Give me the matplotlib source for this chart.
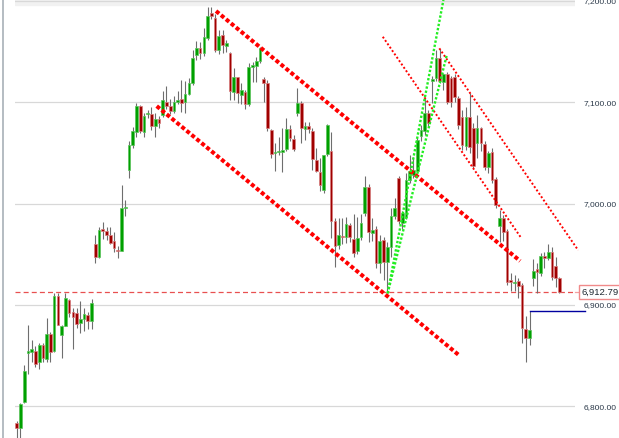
import matplotlib
matplotlib.use("Agg")
import matplotlib.pyplot as plt
import matplotlib.transforms as mtransforms
from matplotlib.patches import Rectangle
from matplotlib.ticker import FuncFormatter
import numpy as np

# candles (open, high, low, close)
open_ = [6783.5, 6778.6, 6804.2, 6853.0, 6853.3, 6854.9, 6843.4, 6860.8, 6847.0, 6871.0,
         6854.6, 6909.1, 6870.0, 6879.5, 6904.9, 6893.0, 6892.2, 6882.5, 6886.1, 6890.0,
         6884.2, 6960.2, 6947.6, 6974.7, 6973.0, 6968.7, 6962.8, 6954.5, 6953.5, 6995.7,
         7033.2, 7057.6, 7071.0, 7096.3, 7071.0, 7088.5, 7088.5, 7076.9, 7083.2, 7087.5,
         7100.6, 7096.3, 7091.4, 7100.6, 7103.0, 7100.6, 7108.2, 7118.8, 7146.7, 7153.9,
         7148.4, 7163.8, 7188.4, 7183.5, 7151.6, 7166.4, 7155.9, 7148.4, 7110.5, 7124.7,
         7107.2, 7109.9, 7098.0, 7135.1, 7135.8, 7141.0, 7123.0, 7119.3, 7072.7, 7049.7,
         7050.5, 7051.0, 7054.2, 7073.7, 7063.8, 7089.1, 7099.0, 7073.7, 7076.6, 7072.0,
         7042.8, 7031.5, 7013.2, 7049.0, 7052.2, 6982.9, 6959.2, 6968.1, 6967.4, 6978.9,
         6965.1, 6953.5, 6966.8, 6991.0, 7016.1, 6971.3, 6974.7, 6941.7, 6964.1, 6942.7,
         6957.5, 6988.0, 7025.3, 6980.9, 6987.1, 7023.3, 7028.0, 7032.5, 7066.7, 7071.7,
         7089.1, 7121.3, 7123.7, 7143.4, 7120.3, 7127.9, 7124.0, 7124.7, 7104.0, 7085.2,
         7057.2, 7085.2, 7074.6, 7060.1, 7074.3, 7058.8, 7036.4, 7051.2, 7024.0, 6977.9,
         6985.5, 6973.3, 6924.0, 6921.4, 6923.6, 6919.7, 6876.2, 6867.7, 6926.3, 6935.2,
         6931.8, 6948.6, 6946.0, 6952.6, 6938.4, 6926.9]
high = [6785.0, 6803.0, 6841.2, 6880.7, 6865.4, 6859.8, 6862.2, 6862.2, 6887.1, 6873.3,
        6911.5, 6912.0, 6880.0, 6912.0, 6906.0, 6897.0, 6897.0, 6904.0, 6896.7, 6893.3,
        6905.6, 6968.7, 6977.0, 6982.2, 6976.6, 6976.6, 6971.7, 6958.2, 7018.4, 7003.6,
        7061.5, 7075.3, 7099.0, 7097.0, 7089.7, 7092.5, 7095.7, 7089.0, 7086.5, 7111.4,
        7116.4, 7103.0, 7106.0, 7111.4, 7122.0, 7121.3, 7124.0, 7151.6, 7160.8, 7159.8,
        7173.0, 7194.3, 7194.0, 7187.0, 7171.4, 7171.0, 7161.5, 7150.0, 7133.6, 7125.0,
        7118.8, 7112.0, 7138.5, 7140.0, 7145.0, 7155.0, 7125.3, 7122.0, 7074.0, 7059.8,
        7065.5, 7074.3, 7084.2, 7077.6, 7067.7, 7113.8, 7101.0, 7080.9, 7080.9, 7074.3,
        7055.2, 7044.7, 7048.0, 7078.6, 7070.4, 6986.0, 6985.8, 6986.0, 6987.1, 6981.2,
        6989.5, 6987.1, 6989.5, 7027.3, 7019.0, 6985.5, 6978.0, 6969.0, 6967.0, 6962.4,
        6995.4, 7005.3, 7027.3, 6993.0, 7030.0, 7048.0, 7046.3, 7066.0, 7077.6, 7104.0,
        7092.0, 7126.0, 7151.6, 7152.3, 7129.2, 7130.0, 7126.0, 7128.0, 7106.0, 7092.0,
        7095.0, 7108.9, 7080.0, 7087.5, 7076.0, 7062.0, 7052.0, 7055.0, 7026.0, 6993.7,
        6988.8, 6975.0, 6932.0, 6929.6, 6926.3, 6921.4, 6889.4, 6894.3, 6945.1, 6941.7,
        6951.0, 6952.6, 6959.9, 6957.5, 6947.0, 6927.5]
low = [6768.0, 6766.0, 6803.0, 6831.9, 6844.0, 6838.7, 6836.8, 6843.7, 6843.7, 6843.7,
       6853.3, 6880.0, 6847.4, 6879.0, 6888.0, 6857.0, 6877.0, 6872.0, 6874.6, 6876.3,
       6876.3, 6941.7, 6946.0, 6964.8, 6964.0, 6960.0, 6952.6, 6946.0, 6953.0, 6987.8,
       7025.0, 7055.0, 7065.8, 7070.0, 7065.5, 7085.0, 7072.7, 7065.5, 7074.3, 7086.0,
       7093.1, 7088.0, 7089.0, 7098.0, 7090.7, 7089.0, 7107.0, 7117.0, 7141.7, 7142.4,
       7146.0, 7162.0, 7182.0, 7149.6, 7148.0, 7148.4, 7149.7, 7102.3, 7102.3, 7099.6,
       7098.3, 7093.1, 7096.0, 7120.3, 7120.3, 7139.0, 7100.6, 7072.0, 7045.0, 7032.2,
       7048.0, 7031.5, 7052.0, 7062.0, 7052.2, 7087.0, 7060.1, 7062.8, 7070.0, 7033.2,
       7031.0, 7012.5, 7011.0, 7047.0, 6965.8, 6937.8, 6955.0, 6960.0, 6960.8, 6962.0,
       6947.6, 6950.0, 6964.0, 6988.0, 6962.0, 6963.0, 6936.0, 6931.2, 6925.0, 6911.5,
       6947.6, 6985.0, 6980.0, 6975.0, 6985.0, 7020.0, 7025.0, 7030.0, 7062.0, 7068.0,
       7076.0, 7099.6, 7121.0, 7119.0, 7112.1, 7098.0, 7095.4, 7100.0, 7074.0, 7053.0,
       7053.0, 7050.0, 7035.0, 7045.0, 7052.0, 7033.0, 7030.0, 7020.0, 6995.7, 6962.4,
       6963.4, 6920.0, 6914.0, 6913.8, 6906.6, 6862.2, 6843.4, 6860.5, 6919.0, 6912.1,
       6929.0, 6936.2, 6944.0, 6925.0, 6918.0, 6912.0]
close = [6778.6, 6802.3, 6834.5, 6854.5, 6856.5, 6842.0, 6860.2, 6847.4, 6871.3, 6853.6,
         6908.8, 6880.5, 6879.2, 6907.2, 6891.8, 6888.0, 6880.8, 6886.1, 6891.1, 6883.9,
         6902.2, 6947.0, 6974.0, 6972.7, 6968.7, 6961.4, 6955.9, 6953.2, 6995.4, 6996.4,
         7057.6, 7071.7, 7096.3, 7071.4, 7086.5, 7089.4, 7076.9, 7083.5, 7079.3, 7102.3,
         7096.3, 7091.4, 7100.3, 7102.3, 7099.6, 7108.2, 7118.8, 7144.0, 7153.3, 7148.4,
         7164.7, 7185.2, 7185.2, 7151.6, 7165.4, 7156.5, 7158.2, 7111.4, 7124.7, 7108.9,
         7112.1, 7098.0, 7134.5, 7136.5, 7140.8, 7153.9, 7118.8, 7074.3, 7049.0, 7051.2,
         7051.0, 7053.0, 7073.7, 7064.5, 7054.2, 7099.0, 7074.3, 7076.9, 7073.4, 7044.0,
         7032.5, 7018.1, 7047.7, 7077.6, 6982.9, 6958.5, 6969.0, 6966.8, 6979.6, 6967.4,
         6951.6, 6965.8, 6980.6, 7016.1, 6971.7, 6974.0, 6941.7, 6962.8, 6942.7, 6957.5,
         6987.8, 6996.0, 6982.9, 6990.5, 7023.3, 7032.5, 7033.0, 7062.8, 7072.7, 7089.1,
         7079.9, 7123.3, 7143.4, 7121.0, 7127.9, 7100.0, 7100.0, 7105.5, 7077.6, 7057.9,
         7085.2, 7056.2, 7037.4, 7074.3, 7059.5, 7036.4, 7049.7, 7023.3, 6998.6, 6985.5,
         6972.3, 6922.4, 6923.0, 6922.4, 6919.0, 6876.9, 6867.7, 6875.3, 6933.8, 6932.8,
         6948.6, 6946.6, 6952.0, 6927.3, 6926.9, 6912.8]

price_ticks = [6800, 6900, 7000, 7100, 7200]
last_price = 6912.79

# drawn lines: ([bar index start, end], [price start, end])
channel_upper = ([53.25, 134.5], [7190.1, 6943.4])
channel_lower = ([37.4, 118.0], [7096.3, 6850.9])
thin_upper = ([112.9, 150.0], [7153.3, 6954.0])
thin_lower = ([97.8, 134.65], [7164.7, 6966.8])
green_steep = ([99.1, 114.0], [6911.5, 7201.0])
green_flat = ([99.1, 114.9], [6911.5, 7146.7])
blue_level = ([137.0, 151.8], [6894.3, 6894.3])

plt.rcParams['font.family'] = ['Liberation Sans', 'DejaVu Sans']

fig = plt.figure(figsize=(6.19, 4.38), dpi=100)
ax = fig.add_axes([15 / 619, 0, 560 / 619, 1])

x = np.arange(len(open_))
o = np.array(open_)
c = np.array(close)
up = c >= o
body_lo = np.minimum(o, c)
body_h = np.maximum(np.abs(c - o), 1.2)

ax.vlines(x, low, high, color='#6e6e6e', lw=0.8, zorder=2)
ax.bar(x[up], body_h[up], bottom=body_lo[up], width=0.72,
       color='#00a000', edgecolor='#5cc45c', linewidth=0.5, zorder=3)
ax.bar(x[~up], body_h[~up], bottom=body_lo[~up], width=0.72,
       color='#a00000', edgecolor='#d88080', linewidth=0.5, zorder=3)

# trend lines
for xs, ys in (channel_upper, channel_lower):
    ax.plot(xs, ys, color='#ff0000', lw=2.9, linestyle=(0, (1, 0.6)),
            dash_capstyle='butt', zorder=4)
for xs, ys in (thin_upper, thin_lower):
    ax.plot(xs, ys, color='#ff0000', lw=1.4, linestyle=(0, (1, 1.1)),
            zorder=4, clip_on=False)
for xs, ys in (green_steep, green_flat):
    ax.plot(xs, ys, color='#22ee22', lw=1.7, linestyle=(0, (1, 0.8)), zorder=4)
ax.plot(blue_level[0], blue_level[1], color='#0000a0', lw=1.0, zorder=4, clip_on=False)

# last price line and box
ax.axhline(last_price, color='#e85050', lw=0.9, linestyle=(0, (4, 2.5)), zorder=1)
trans = mtransforms.blended_transform_factory(ax.transAxes, ax.transData)
ax.plot([1.0, 1.011], [last_price, last_price], color='#f4a0a0', lw=0.9,
        transform=trans, clip_on=False)
ax.text(1.0125, last_price, '{:,.2f}'.format(last_price), transform=trans,
        fontsize=6.8, color='#1e2830', va='center', ha='left', clip_on=False,
        bbox=dict(boxstyle='square,pad=0.3', fc='white', ec='#f08a8a', lw=1.0))

ax.set_xlim(-0.454, 149.15)
ax.set_ylim(6768.7, 7201.0)
ax.set_yticks(price_ticks)
ax.yaxis.tick_right()
ax.yaxis.set_major_formatter(FuncFormatter(lambda v, p: '{:,.2f}'.format(v)))
ax.tick_params(axis='y', length=0, pad=6.5, labelsize=6.0, labelcolor='#2a3848')
ax.set_xticks([])
ax.grid(axis='y', color='#d8d8d8', lw=0.9)
ax.set_axisbelow(True)
for s in ax.spines.values():
    s.set_visible(False)

# faint band at the top and the window edge on the left
ax.add_patch(Rectangle((0, 0.988), 1, 0.012, transform=ax.transAxes,
                       color='#f1f1f1', zorder=0))
fig.add_artist(plt.Line2D([2.5 / 619, 2.5 / 619], [0, 1], color='#a8b0b8', lw=1.2))

fig.savefig('out.png', dpi=100)
